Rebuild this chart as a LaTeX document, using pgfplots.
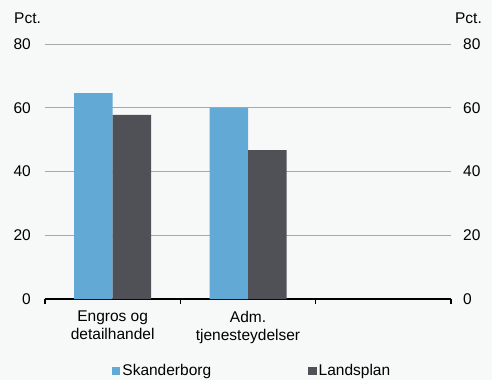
\documentclass[border=0pt]{standalone}
\usepackage{pgfplots}
\pgfplotsset{compat=1.18}
\usepackage{fontspec}
\setmainfont{Liberation Sans}
\definecolor{skb}{HTML}{63A9D5}
\definecolor{land}{HTML}{505156}
\definecolor{bg}{HTML}{F7F8F8}
\definecolor{gridc}{HTML}{A8A8A8}

\begin{document}
\begin{tikzpicture}[font=\fontsize{15.5}{18}\selectfont]
\fill[bg] (-45pt,-81pt) rectangle (447pt,299pt);
% main axis, left labels
\begin{axis}[
    at={(0pt,0pt)}, anchor=south west,
    scale only axis, width=406pt, height=255pt,
    clip=false,
    xmin=-0.5, xmax=2.5, ymin=0, ymax=80,
    ybar=0pt, bar width=38.5pt,
    axis x line*=bottom, axis y line*=left,
    y axis line style={draw=none},
    x axis line style={black, line width=1.3pt, -},
    major tick length=0pt,
    xtick={0,1},
    xticklabels={{Engros og\\detailhandel},{Adm.\\tjenesteydelser}},
    xticklabel style={align=center, inner sep=0pt, anchor=north, yshift=-12pt,
        font=\fontsize{15.5}{18}\selectfont},
    extra x ticks={-0.5,0.5,1.5,2.5},
    extra x tick labels={},
    extra x tick style={tick align=outside, major tick length=5pt,
        tick style={black, line width=1.2pt}},
    ytick={0,20,...,80},
    yticklabel style={inner sep=0pt, anchor=east, xshift=-14pt},
    /pgf/number format/assume math mode=true,
    ymajorgrids, grid style={gridc, line width=0.8pt},
    legend columns=2,
    legend style={draw=none, fill=none, at={(0.51,0)}, anchor=center, yshift=-72pt,
        /tikz/every even column/.append style={column sep=95pt},
        font=\fontsize{15.5}{18}\selectfont},
]
\addplot[fill=skb, draw=none,
    legend image code/.code={\fill[skb] (0pt,-4.3pt) rectangle (8.5pt,4.3pt);}]
    coordinates {(0,64.6) (1,60)};
\addplot[fill=land, draw=none,
    legend image code/.code={\fill[land] (0pt,-4.3pt) rectangle (8.5pt,4.3pt);}]
    coordinates {(0,57.8) (1,46.7)};
\legend{Skanderborg, Landsplan}
\node[anchor=base west, inner sep=0pt] at (rel axis cs:0,1) [xshift=-31pt, yshift=21pt] {Pct.};
\node[anchor=base east, inner sep=0pt] at (rel axis cs:1,1) [xshift=31pt, yshift=21pt] {Pct.};
\end{axis}
% right labels
\begin{axis}[
    at={(0pt,0pt)}, anchor=south west,
    scale only axis, width=406pt, height=255pt,
    xmin=-0.5, xmax=2.5, ymin=0, ymax=80,
    axis x line=none, axis y line*=right,
    y axis line style={draw=none},
    major tick length=0pt,
    ytick={0,20,...,80},
    yticklabel style={inner sep=0pt, anchor=west, xshift=12pt},
    /pgf/number format/assume math mode=true,
]
\addplot[draw=none] coordinates {(0,0)};
\end{axis}
\end{tikzpicture}
\end{document}
